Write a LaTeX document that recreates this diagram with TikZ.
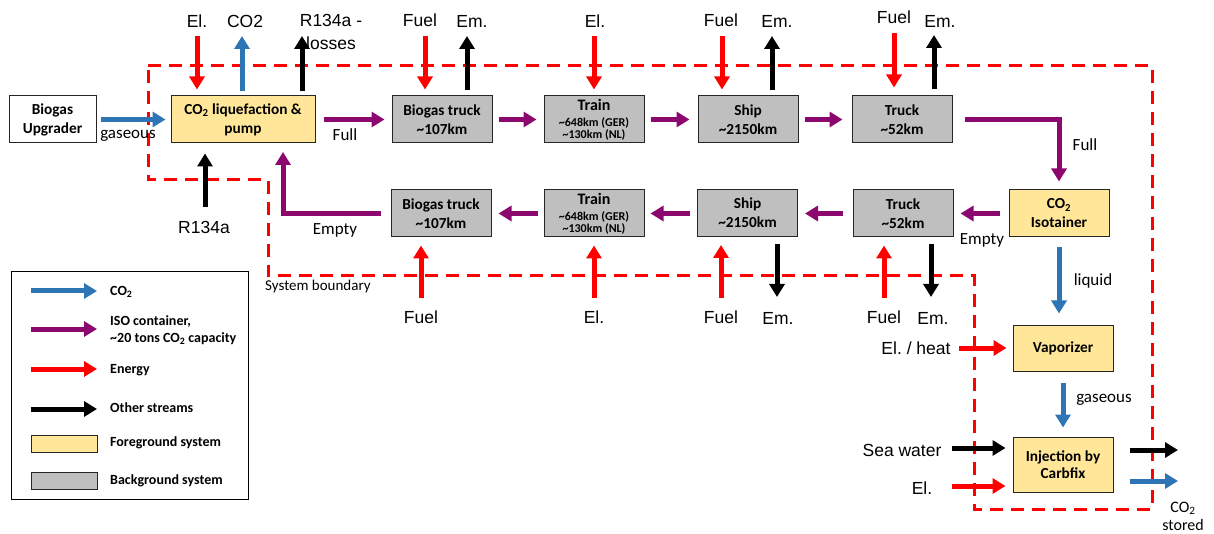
\documentclass[tikz,border=0pt]{standalone}
\usepackage{fontspec}
\setmainfont{Carlito}
\newfontfamily\arialf{Liberation Sans}
\usetikzlibrary{arrows.meta}
\definecolor{cblue}{RGB}{46,117,182}
\definecolor{cpur}{RGB}{140,8,110}
\definecolor{cred}{RGB}{255,0,0}
\definecolor{cyel}{RGB}{255,230,153}
\definecolor{cgray}{RGB}{191,191,191}
\begin{document}
\begin{tikzpicture}[x=1pt,y=-1pt,
  box/.style={draw=black!85, line width=1pt, minimum height=47pt, inner sep=0pt, align=center, font=\bfseries\fontsize{15.3}{19}\selectfont},
  fg/.style={box, fill=cyel},
  bg/.style={box, fill=cgray, minimum width=100pt},
  lbl/.style={font=\arialf\fontsize{17.5}{23}\selectfont, inner sep=0pt},
  clbl/.style={font=\fontsize{17}{20}\selectfont, inner sep=0pt},
  leg/.style={font=\bfseries\fontsize{14}{17}\selectfont, inner sep=0pt, anchor=west, align=left},
  flow/.style={line width=5pt, -{Triangle[width=15pt,length=13pt]}},
  blueA/.style={flow, draw=cblue},
  purA/.style={flow, draw=cpur},
  redA/.style={flow, draw=cred},
  blkA/.style={flow, draw=black},
  boundary/.style={draw=cred, line width=3pt, dash pattern=on 13pt off 8pt}
]
\useasboundingbox (0,0) rectangle (1214,534);

% system boundary
\draw[boundary] (148,66) -- (1152,66) -- (1152,509) -- (974,509) -- (974,276) -- (268,276) -- (268,180) -- (148,180) -- cycle;
\node[font=\fontsize{15}{18}\selectfont, inner sep=0pt, anchor=west] (sb) at (265,287) {System boundary};

% boxes
\node[box, fill=white, minimum width=87pt] (up) at (52.5,119.5) {Biogas\\Upgrader};
\node[fg, minimum width=144pt] (liq) at (243,119.5) {CO\textsubscript{2} liquefaction \&\\pump};
\node[bg] (bt1) at (442,119.5) {Biogas truck\\\textasciitilde107km};
\node[bg] (tr1) at (594,119.5) {{\fontsize{16}{15}\selectfont Train}\\[-3pt]{\fontsize{12}{13}\selectfont\textasciitilde648km (GER)}\\[-7pt]{\fontsize{12}{13}\selectfont\textasciitilde130km (NL)}};
\node[bg] (sh1) at (748,119.5) {Ship\\\textasciitilde2150km};
\node[bg] (tk1) at (902,119.5) {Truck\\\textasciitilde52km};
\node[bg] (bt2) at (441,213.5) {Biogas truck\\\textasciitilde107km};
\node[bg] (tr2) at (594,213.5) {{\fontsize{16}{15}\selectfont Train}\\[-3pt]{\fontsize{12}{13}\selectfont\textasciitilde648km (GER)}\\[-7pt]{\fontsize{12}{13}\selectfont\textasciitilde130km (NL)}};
\node[bg] (sh2) at (747.5,213) {Ship\\\textasciitilde2150km};
\node[bg] (tk2) at (903,213.5) {Truck\\\textasciitilde52km};
\node[fg, minimum width=100pt] (iso) at (1059,213.5) {CO\textsubscript{2}\\Isotainer};
\node[fg, minimum width=100pt, minimum height=46pt] (vap) at (1063,348) {Vaporizer};
\node[fg, minimum width=100pt, minimum height=55pt] (inj) at (1063,464.5) {Injection by\\[-2pt]Carbfix};

% labels
\node[lbl] (tEl) at (197,21) {El.};
\node[lbl] (tCO) at (245,21) {CO2};
\node[lbl, align=center] (tR) at (331,32) {R134a -\\losses};
\node[lbl] (tF1) at (420,20) {Fuel};
\node[lbl] (tE1) at (472,21) {Em.};
\node[lbl] (tEl2) at (595,21) {El.};
\node[lbl] (tF2) at (721,20) {Fuel};
\node[lbl] (tE2) at (777,21) {Em.};
\node[lbl] (tF3) at (894,17) {Fuel};
\node[lbl] (tE3) at (940,21) {Em.};
\node[lbl] (tR2) at (204,227) {R134a};
\node[lbl] (bF1) at (421,317) {Fuel};
\node[lbl] (bEl) at (594,317) {El.};
\node[lbl] (bF2) at (721,317) {Fuel};
\node[lbl] (bE2) at (778,318) {Em.};
\node[lbl] (bF3) at (884,317) {Fuel};
\node[lbl] (bE3) at (933,318) {Em.};
\node[lbl] (tHeat) at (916,348) {El.\ / heat};
\node[lbl] (tSea) at (902,450) {Sea water};
\node[lbl] (tEl3) at (922,488) {El.};
\node[clbl] (gas1) at (128,136) {gaseous};
\node[clbl] (full1) at (345,135) {Full};
\node[clbl] (empty1) at (335,230) {Empty};
\node[clbl] (full2) at (1085,145) {Full};
\node[clbl] (empty2) at (982,240) {Empty};
\node[clbl] (liquid) at (1093,281) {liquid};
\node[clbl] (gas2) at (1104,400) {gaseous};
\node[clbl, align=center, font=\fontsize{16}{18}\selectfont] (stored) at (1183,516) {CO\textsubscript{2}\\stored};

% coordinates for free ends
\coordinate (aEl) at (197,36);
\coordinate (aCO) at (242,36);
\coordinate (aR) at (302,36);
\coordinate (aR2) at (205,207);
\coordinate (aF1) at (425,36);
\coordinate (aE1) at (467,36);
\coordinate (aEl2) at (594,36);
\coordinate (aF2) at (722,36);
\coordinate (aE2) at (772,36);
\coordinate (aF3) at (894,33);
\coordinate (aE3) at (934,35);
\coordinate (bf1) at (421,298);
\coordinate (bel) at (594,298);
\coordinate (bf2) at (721,298);
\coordinate (be2) at (777,297);
\coordinate (bf3) at (884,298);
\coordinate (be3) at (931,297);
\coordinate (emp) at (283,143);
\coordinate (hIn) at (959,348);
\coordinate (sIn) at (952,448);
\coordinate (eIn) at (952,486);
\coordinate (oBlk) at (1178,450);
\coordinate (oBlu) at (1178,481);

% main flows
\draw[blueA, shorten <=4pt, shorten >=5pt] (up.east) -- (liq.west);
\draw[purA, shorten <=8pt, shorten >=7pt] (liq.east) -- (bt1.west);
\draw[purA, shorten <=6pt, shorten >=7pt] (bt1.east) -- (tr1.west);
\draw[purA, shorten <=6pt, shorten >=8pt] (tr1.east) -- (sh1.west);
\draw[purA, shorten <=6pt, shorten >=9pt] (sh1.east) -- (tk1.west);
\draw[purA, shorten <=12pt, shorten >=8pt] (tk1.east) -| (iso.north);
\draw[purA, shorten <=9pt, shorten >=7pt] (iso.west) -- (tk2.east);
\draw[purA, shorten <=10pt, shorten >=7pt] (tk2.west) -- (sh2.east |- tk2.west);
\draw[purA, shorten <=7pt, shorten >=6pt] (sh2.west |- tr2.east) -- (tr2.east);
\draw[purA, shorten <=6pt, shorten >=7pt] (tr2.west) -- (bt2.east);
\draw[purA, shorten <=10pt, shorten >=9pt] (bt2.west) -| (emp);
\draw[blueA, shorten <=10pt, shorten >=11pt] (iso.south) -- (iso.south |- vap.north);
\draw[blueA, shorten <=11pt, shorten >=9pt] (vap.south) -- (inj.north);

% top side streams
\draw[redA, shorten >=6pt] (aEl) -- (liq.north -| aEl);
\draw[blueA, shorten <=4pt] (liq.north -| aCO) -- (aCO);
\draw[blkA, shorten <=4pt] (liq.north -| aR) -- (aR);
\draw[blkA, shorten >=10pt] (aR2) -- (liq.south -| aR2);
\draw[redA, shorten >=6pt] (aF1) -- (bt1.north -| aF1);
\draw[blkA, shorten <=5pt] (bt1.north -| aE1) -- (aE1);
\draw[redA, shorten >=6pt] (aEl2) -- (tr1.north -| aEl2);
\draw[redA, shorten >=6pt] (aF2) -- (sh1.north -| aF2);
\draw[blkA, shorten <=5pt] (sh1.north -| aE2) -- (aE2);
\draw[redA, shorten >=8pt] (aF3) -- (tk1.north -| aF3);
\draw[blkA, shorten <=6pt] (tk1.north -| aE3) -- (aE3);

% bottom side streams
\draw[redA, shorten >=8pt] (bf1) -- (bt2.south -| bf1);
\draw[redA, shorten >=8pt] (bel) -- (tr2.south -| bel);
\draw[redA, shorten >=8pt] (bf2) -- (sh2.south -| bf2);
\draw[blkA, shorten <=7pt] (sh2.south -| be2) -- (be2);
\draw[redA, shorten >=8pt] (bf3) -- (tk2.south -| bf3);
\draw[blkA, shorten <=7pt] (tk2.south -| be3) -- (be3);

% right side streams
\draw[redA, shorten >=6pt] (hIn) -- (vap.west);
\draw[blkA, shorten >=7pt] (sIn) -- (inj.west |- sIn);
\draw[redA, shorten >=7pt] (eIn) -- (inj.west |- eIn);
\draw[blkA, shorten <=16pt] (inj.east |- oBlk) -- (oBlk);
\draw[blueA, shorten <=16pt] (inj.east |- oBlu) -- (oBlu);

% legend
\node[draw=black, line width=1pt, minimum width=237pt, minimum height=227pt, inner sep=0pt] (legbox) at (129.5,385.5) {};
\coordinate (l1a) at (31,291); \coordinate (l1b) at (97,291);
\coordinate (l2a) at (31,329); \coordinate (l2b) at (97,329);
\coordinate (l3a) at (31,369); \coordinate (l3b) at (97,369);
\coordinate (l4a) at (31,409); \coordinate (l4b) at (97,409);
\draw[blueA] (l1a) -- (l1b);
\draw[purA] (l2a) -- (l2b);
\draw[redA] (l3a) -- (l3b);
\draw[blkA] (l4a) -- (l4b);
\node[leg] (lt1) at (110,292) {CO\textsubscript{2}};
\node[leg] (lt2) at (110,330.5) {ISO container,\\\textasciitilde20 tons CO\textsubscript{2} capacity};
\node[leg] (lt3) at (110,370) {Energy};
\node[leg] (lt4) at (110,408) {Other streams};
\node[draw=black!85, line width=1pt, fill=cyel, minimum width=66pt, minimum height=17pt, inner sep=0pt] (sw1) at (64,443.5) {};
\node[draw=black!85, line width=1pt, fill=cgray, minimum width=66pt, minimum height=17pt, inner sep=0pt] (sw2) at (64,480.5) {};
\node[leg] (lt5) at (110,443) {Foreground system};
\node[leg] (lt6) at (110,481) {Background system};
\end{tikzpicture}
\end{document}
